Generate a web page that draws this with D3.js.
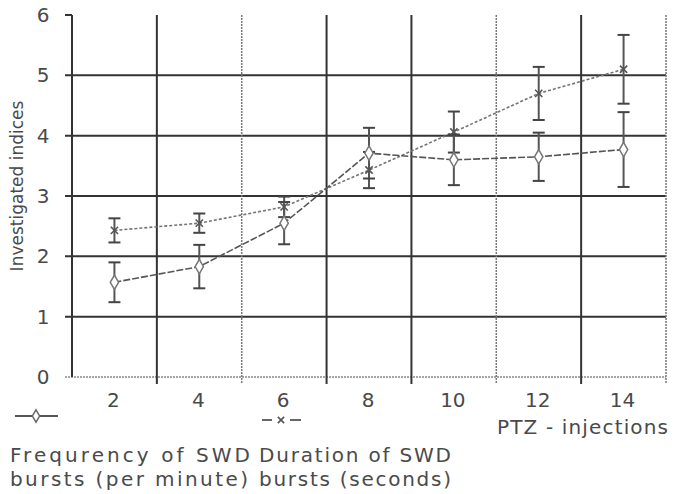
<!DOCTYPE html>
<html>
<head>
<meta charset="utf-8">
<script src="https://cdn.jsdelivr.net/npm/d3@7"></script>
<style>
  body { margin: 0; background: #fff; }
  text { font-family: "DejaVu Sans", sans-serif; fill: #4a4a4a; }
</style>
</head>
<body>
<div id="chart"></div>
<script>
// PTZ injections (category axis)
var injections = ["2", "4", "6", "8", "10", "12", "14"];
var yTicks = [0, 1, 2, 3, 4, 5, 6];

// Frequency of SWD bursts (per minute)
var freqValues = [1.57, 1.83, 2.55, 3.71, 3.60, 3.65, 3.77];
var freqErrors = [0.33, 0.36, 0.35, 0.42, 0.42, 0.40, 0.62];

// Duration of SWD bursts (seconds)
var durValues = [2.43, 2.55, 2.82, 3.43, 4.06, 4.70, 5.10];
var durErrors = [0.20, 0.16, 0.17, 0.30, 0.34, 0.44, 0.57];

(function () {
    var width = 674, height = 494;
    var left = 72, right = 666, top = 15, bottom = 377;

    var svg = d3.select("#chart").append("svg")
        .attr("width", width)
        .attr("height", height);

    var x = d3.scaleBand().domain(injections).range([left, right]).padding(0);
    var y = d3.scaleLinear().domain([0, 6]).range([bottom, top]);

    var grid = svg.append("g");

    // horizontal grid lines (0 is a faint dotted base line, 6 only a tick)
    grid.selectAll("line.h")
        .data(yTicks)
        .enter().append("line")
        .attr("x1", 65)
        .attr("x2", d => d === 6 ? left : right)
        .attr("y1", d => y(d))
        .attr("y2", d => y(d))
        .attr("stroke", d => d === 0 ? "#888" : "#333")
        .attr("stroke-width", d => d === 0 ? 1.5 : 2)
        .attr("stroke-dasharray", d => d === 0 ? "2,1" : null);

    // vertical grid lines on the band edges
    var edges = injections.map(d => x(d)).concat([right]);
    var faint = [2, 5, 7];
    grid.selectAll("line.v")
        .data(edges)
        .enter().append("line")
        .attr("x1", d => d)
        .attr("x2", d => d)
        .attr("y1", top)
        .attr("y2", (d, i) => i === 0 ? bottom : 384)
        .attr("stroke", (d, i) => faint.indexOf(i) >= 0 ? "#777" : "#333")
        .attr("stroke-width", (d, i) => faint.indexOf(i) >= 0 ? 1.5 : 2)
        .attr("stroke-dasharray", (d, i) => faint.indexOf(i) >= 0 ? "2,1" : null);

    // y tick labels
    svg.selectAll("text.ytick")
        .data(yTicks)
        .enter().append("text")
        .attr("x", 43)
        .attr("y", d => y(d) + 7)
        .attr("text-anchor", "middle")
        .attr("font-size", 20)
        .text(d => d);

    svg.append("text")
        .attr("transform", "translate(23, 186) rotate(-90)")
        .attr("text-anchor", "middle")
        .attr("font-size", 17)
        .text("Investigated indices");

    // x tick labels
    svg.selectAll("text.xtick")
        .data(injections)
        .enter().append("text")
        .attr("x", d => x(d) + x.bandwidth() / 2 - 1)
        .attr("y", 407)
        .attr("text-anchor", "middle")
        .attr("font-size", 20)
        .text(d => d);

    var cx = (d, i) => x(injections[i]) + x.bandwidth() / 2;

    var series = [
        { values: durValues, errors: durErrors, color: "#747474", dash: "3,2", mark: "x" },
        { values: freqValues, errors: freqErrors, color: "#555", dash: "7,2", mark: "diamond" }
    ];

    series.forEach(function (s) {
        var g = svg.append("g");
        var line = d3.line().x(cx).y(d => y(d));

        g.append("path")
            .attr("d", line(s.values))
            .attr("fill", "none")
            .attr("stroke", s.color)
            .attr("stroke-width", 1.6)
            .attr("stroke-dasharray", s.dash);

        // error bars
        var bars = g.selectAll("g.err")
            .data(s.values)
            .enter().append("g");

        bars.append("line")
            .attr("x1", cx).attr("x2", cx)
            .attr("y1", (d, i) => y(d + s.errors[i]))
            .attr("y2", (d, i) => y(d - s.errors[i]))
            .attr("stroke", "#555")
            .attr("stroke-width", 2);

        [1, -1].forEach(function (sign) {
            bars.append("line")
                .attr("x1", (d, i) => cx(d, i) - 6)
                .attr("x2", (d, i) => cx(d, i) + 6)
                .attr("y1", (d, i) => y(d + sign * s.errors[i]))
                .attr("y2", (d, i) => y(d + sign * s.errors[i]))
                .attr("stroke", "#444")
                .attr("stroke-width", 2);
        });

        if (s.mark === "diamond") {
            g.selectAll("path.mk")
                .data(s.values)
                .enter().append("path")
                .attr("d", d3.symbol().type(d3.symbolDiamond).size(60))
                .attr("transform", (d, i) => "translate(" + cx(d, i) + "," + y(d) + ")")
                .attr("fill", "#fff")
                .attr("stroke", "#777")
                .attr("stroke-width", 1.5);
        } else {
            g.selectAll("path.mk")
                .data(s.values)
                .enter().append("path")
                .attr("d", d3.symbol().type(d3.symbolX).size(36))
                .attr("transform", (d, i) => "translate(" + cx(d, i) + "," + y(d) + ")")
                .attr("fill", "none")
                .attr("stroke", "#555")
                .attr("stroke-width", 1.6);
        }
    });

    // legend keys
    var key = svg.append("g");
    key.append("line")
        .attr("x1", 15).attr("x2", 58).attr("y1", 416).attr("y2", 416)
        .attr("stroke", "#555").attr("stroke-width", 1.8);
    key.append("path")
        .attr("d", d3.symbol().type(d3.symbolDiamond).size(45))
        .attr("transform", "translate(36,416)")
        .attr("fill", "#fff").attr("stroke", "#666").attr("stroke-width", 1.5);

    key.append("line")
        .attr("x1", 262).attr("x2", 272).attr("y1", 420).attr("y2", 420)
        .attr("stroke", "#555").attr("stroke-width", 1.8);
    key.append("line")
        .attr("x1", 290).attr("x2", 301).attr("y1", 420).attr("y2", 420)
        .attr("stroke", "#555").attr("stroke-width", 1.8);
    key.append("path")
        .attr("d", d3.symbol().type(d3.symbolX).size(28))
        .attr("transform", "translate(281,420)")
        .attr("fill", "none").attr("stroke", "#555").attr("stroke-width", 1.6);

    var labels = [
        { text: "PTZ - injections", x: 497, y: 434, len: 171 },
        { text: "Frequrency of SWD", x: 10, y: 462, len: 240 },
        { text: "bursts  (per minute)", x: 10, y: 486, len: 238 },
        { text: "Duration of SWD", x: 259, y: 462, len: 192 },
        { text: "bursts (seconds)", x: 259, y: 486, len: 192 }
    ];

    svg.selectAll("text.lab")
        .data(labels)
        .enter().append("text")
        .attr("x", d => d.x)
        .attr("y", d => d.y)
        .attr("font-size", 20)
        .attr("textLength", d => d.len)
        .attr("lengthAdjust", "spacing")
        .text(d => d.text);
})();
</script>
</body>
</html>
